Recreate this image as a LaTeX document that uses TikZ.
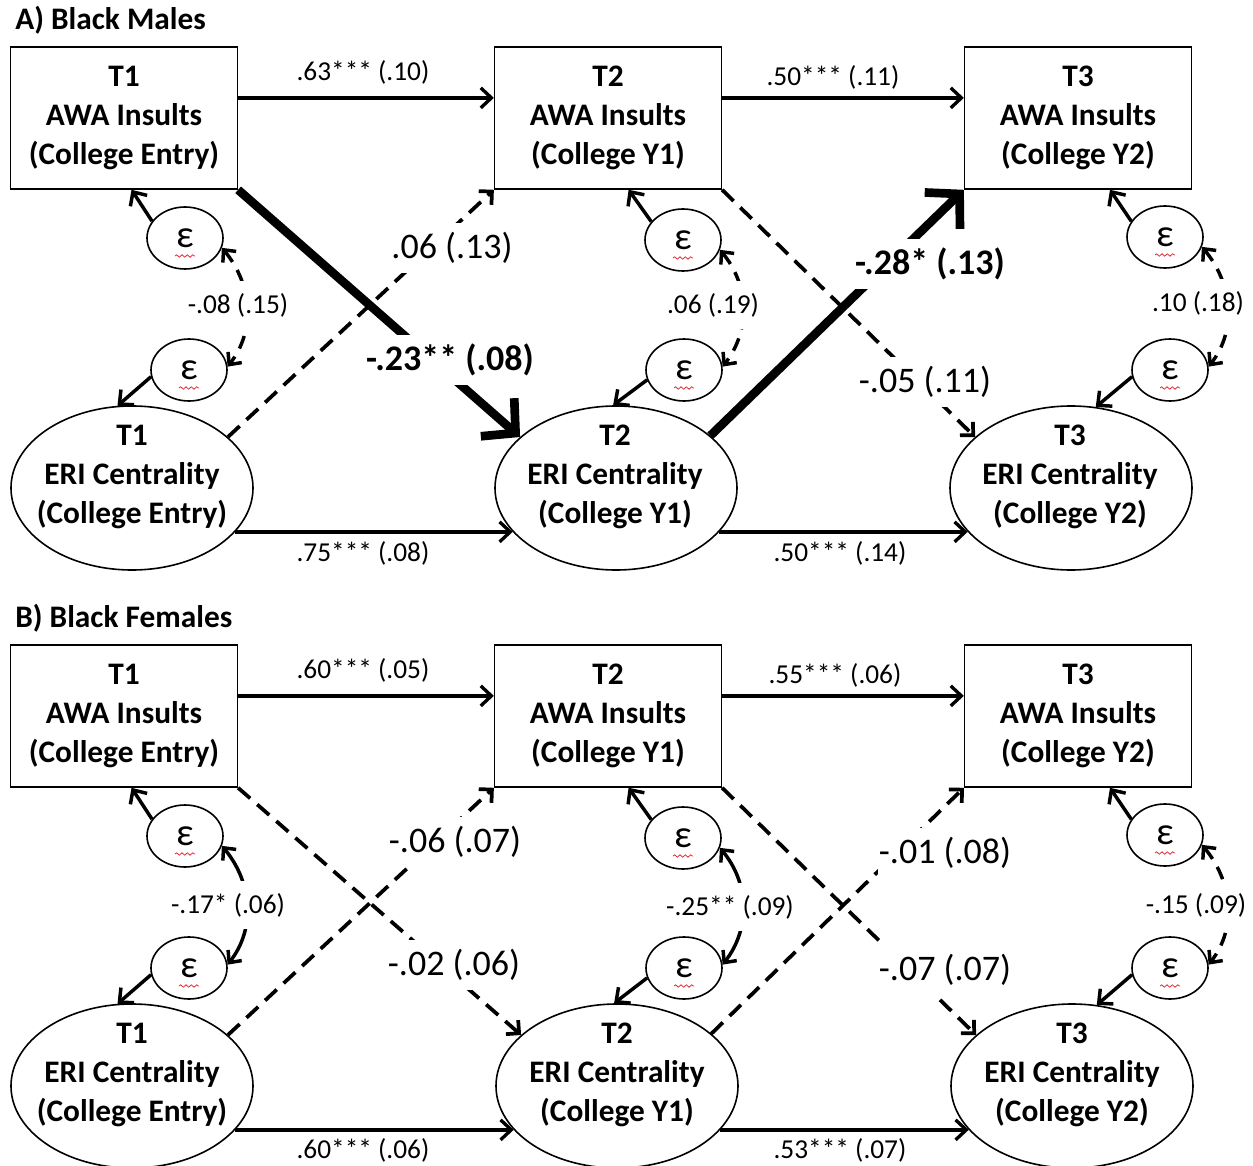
\documentclass[tikz,border=0pt]{standalone}
\usepackage{fontspec}
\setmainfont{Carlito}
\usetikzlibrary{arrows.meta,shapes.geometric,decorations.pathmorphing}

\definecolor{squigred}{RGB}{225,45,60}

\tikzset{
  panel/.style={font=\fontsize{23.5}{28}\selectfont\bfseries, inner sep=0pt, anchor=west},
  awa/.style={draw, line width=1.2pt, minimum width=170pt, minimum height=106.5pt, align=center,
    font=\fontsize{23.5}{29.25}\selectfont\bfseries},
  eri/.style={draw, ellipse, line width=1.2pt, minimum width=181.5pt, minimum height=123pt},
  eritext/.style={align=center, inner sep=0pt, font=\fontsize{23.5}{29.25}\selectfont\bfseries},
  resid/.style={draw, ellipse, line width=1.2pt, minimum width=57pt, minimum height=46.5pt,
    inner sep=0pt, font=\fontsize{29}{32}\selectfont},
  squiggle/.style={squigred, line width=0.6pt, decorate,
    decoration={snake, amplitude=0.9pt, segment length=4pt}},
  stable/.style={line width=2.5pt, -{Straight Barb[length=8pt,width=15pt]}},
  residarrow/.style={line width=2.6pt, -{Straight Barb[length=8pt,width=15pt]}},
  lagdash/.style={line width=2.8pt, dash pattern=on 12pt off 7pt, -{Straight Barb[length=7pt,width=14pt]}},
  lagbold/.style={line width=6.5pt, -{Straight Barb[length=18pt,width=38pt]}},
  covsolid/.style={line width=2.6pt, {Straight Barb[length=7pt,width=13pt]}-{Straight Barb[length=7pt,width=13pt]}},
  covdash/.style={covsolid, dash pattern=on 10pt off 7pt},
  coef/.style={font=\fontsize{20.5}{24}\selectfont, inner sep=1pt},
  covcoef/.style={coef, fill=white, inner ysep=9pt},
  bigcoef/.style={font=\fontsize{27}{32}\selectfont, fill=white, inner xsep=1pt, inner ysep=7pt},
}

\begin{document}
\begin{tikzpicture}[x=0.75pt,y=0.75pt,yscale=-1,xscale=1]
\path[use as bounding box, fill=white] (0,0) rectangle (1253,1166);

%%%%%%%% A) Black Males
\node[panel] (tA) at (15,20) {A) Black Males};

%Shape: Rectangle
\node[awa] (mA1) at (124,118) {T1\\AWA Insults\\(College Entry)};
\node[awa] (mA2) at (608,118) {T2\\AWA Insults\\(College Y1)};
\node[awa] (mA3) at (1078,118) {T3\\AWA Insults\\(College Y2)};
%Shape: Ellipse
\node[eri] (mE1) at (132,488) {};
\node[eri] (mE2) at (616,488) {};
\node[eri] (mE3) at (1071,488) {};
% Text Node
\node[eritext] (mE1t) at (132,477) {T1\\ERI Centrality\\(College Entry)};
\node[eritext] (mE2t) at (615,477) {T2\\ERI Centrality\\(College Y1)};
\node[eritext] (mE3t) at (1070,477) {T3\\ERI Centrality\\(College Y2)};
%Shape: Circle (residuals)
\node[resid] (mUA1) at (185,238) {ε};
\node[resid] (mUE1) at (189,370) {ε};
\node[resid] (mUA2) at (683,240) {ε};
\node[resid] (mUE2) at (684,370) {ε};
\node[resid] (mUA3) at (1165,237) {ε};
\node[resid] (mUE3) at (1170,370) {ε};

%Straight Lines: stability paths
\draw[stable] (mA1.10) -- (mA2.170);
\draw[stable] (mA2.10) -- (mA3.170);
\draw[stable] (mE1.-23) -- (mE2.-157);
\draw[stable] (mE2.-23) -- (mE3.-157);
%Straight Lines: cross-lagged paths
\draw[lagbold] (mA1.south east) -- (mE2.152);
\draw[lagdash] (mE1.28) -- (mA2.south west);
\draw[lagbold] (mE2.29) -- (mA3.south west);
\draw[lagdash] (mA2.south east) -- (mE3.152);
%Straight Lines: residuals
\draw[residarrow] (mUA1.153) -- (mA1.-84);
\draw[residarrow] (mUE1.190) -- (mE1.100);
\draw[residarrow] (mUA2.150) -- (mA2.-74);
\draw[residarrow] (mUE2.195) -- (mE2.92);
\draw[residarrow] (mUA3.155) -- (mA3.-66);
\draw[residarrow] (mUE3.190) -- (mE3.73);
%Curve Lines: residual covariances (y axis points down)
\draw[covdash] (mUA1.-15) to[out=50,in=-52] (mUE1.5);
\draw[covdash] (mUA2.-15) to[out=50,in=-52] (mUE2.5);
\draw[covdash] (mUA3.-15) to[out=50,in=-52] (mUE3.5);

% Text Node
\node[coef] (cmA12) at (363,72) {.63*** (.10)};
\node[coef] (cmA23) at (833,77) {.50*** (.11)};
\node[coef] (cmE12) at (363,553) {.75*** (.08)};
\node[coef] (cmE23) at (840,553) {.50*** (.14)};
\node[bigcoef] (cmAE) at (450,360) {\textbf{-.23** (.08)}};
\node[bigcoef] (cmEA) at (452,248) {.06 (.13)};
\node[bigcoef] (cmEA2) at (930,264) {\textbf{-.28* (.13)}};
\node[bigcoef] (cmAE2) at (925,382) {-.05 (.11)};
\node[covcoef] (cmU1) at (238,305) {-.08 (.15)};
\node[covcoef] (cmU2) at (713,305) {.06 (.19)};
\node[covcoef] (cmU3) at (1198,303) {.10 (.18)};

%%%%%%%% B) Black Females
\node[panel] (tB) at (15,618) {B) Black Females};

%Shape: Rectangle
\node[awa] (fA1) at (124,716) {T1\\AWA Insults\\(College Entry)};
\node[awa] (fA2) at (608,716) {T2\\AWA Insults\\(College Y1)};
\node[awa] (fA3) at (1078,716) {T3\\AWA Insults\\(College Y2)};
%Shape: Ellipse
\node[eri] (fE1) at (132,1086) {};
\node[eri] (fE2) at (617,1086) {};
\node[eri] (fE3) at (1072,1086) {};
% Text Node
\node[eritext] (fE1t) at (132,1075) {T1\\ERI Centrality\\(College Entry)};
\node[eritext] (fE2t) at (617,1075) {T2\\ERI Centrality\\(College Y1)};
\node[eritext] (fE3t) at (1072,1075) {T3\\ERI Centrality\\(College Y2)};
%Shape: Circle (residuals)
\node[resid] (fUA1) at (185,836) {ε};
\node[resid] (fUE1) at (189,968) {ε};
\node[resid] (fUA2) at (683,838) {ε};
\node[resid] (fUE2) at (684,968) {ε};
\node[resid] (fUA3) at (1165,835) {ε};
\node[resid] (fUE3) at (1170,968) {ε};

%Straight Lines: stability paths
\draw[stable] (fA1.10) -- (fA2.170);
\draw[stable] (fA2.10) -- (fA3.170);
\draw[stable] (fE1.-23) -- (fE2.-157);
\draw[stable] (fE2.-23) -- (fE3.-157);
%Straight Lines: cross-lagged paths
\draw[lagdash] (fA1.south east) -- (fE2.152);
\draw[lagdash] (fE1.28) -- (fA2.south west);
\draw[lagdash] (fE2.29) -- (fA3.south west);
\draw[lagdash] (fA2.south east) -- (fE3.152);
%Straight Lines: residuals
\draw[residarrow] (fUA1.153) -- (fA1.-84);
\draw[residarrow] (fUE1.190) -- (fE1.100);
\draw[residarrow] (fUA2.150) -- (fA2.-74);
\draw[residarrow] (fUE2.195) -- (fE2.92);
\draw[residarrow] (fUA3.155) -- (fA3.-66);
\draw[residarrow] (fUE3.190) -- (fE3.73);
%Curve Lines: residual covariances
\draw[covsolid] (fUA1.-15) to[out=50,in=-52] (fUE1.5);
\draw[covsolid] (fUA2.-15) to[out=50,in=-52] (fUE2.5);
\draw[covdash] (fUA3.-15) to[out=50,in=-52] (fUE3.5);

% Text Node
\node[coef] (cfA12) at (363,670) {.60*** (.05)};
\node[coef] (cfA23) at (835,675) {.55*** (.06)};
\node[coef] (cfE12) at (363,1150) {.60*** (.06)};
\node[coef] (cfE23) at (840,1150) {.53*** (.07)};
\node[bigcoef] (cfAE) at (454,965) {-.02 (.06)};
\node[bigcoef] (cfEA) at (455,842) {-.06 (.07)};
\node[bigcoef] (cfEA2) at (945,853) {-.01 (.08)};
\node[bigcoef] (cfAE2) at (945,970) {-.07 (.07)};
\node[covcoef] (cfU1) at (228,905) {-.17* (.06)};
\node[covcoef] (cfU2) at (730,907) {-.25** (.09)};
\node[covcoef] (cfU3) at (1196,905) {-.15 (.09)};

% spell-check marks under the residuals
\foreach \u in {mUA1,mUE1,mUA2,mUE2,mUA3,mUE3,fUA1,fUE1,fUA2,fUE2,fUA3,fUE3}
  \draw[squiggle] (\u.center) ++(-10,18) -- ++(20,0);

\end{tikzpicture}
\end{document}
